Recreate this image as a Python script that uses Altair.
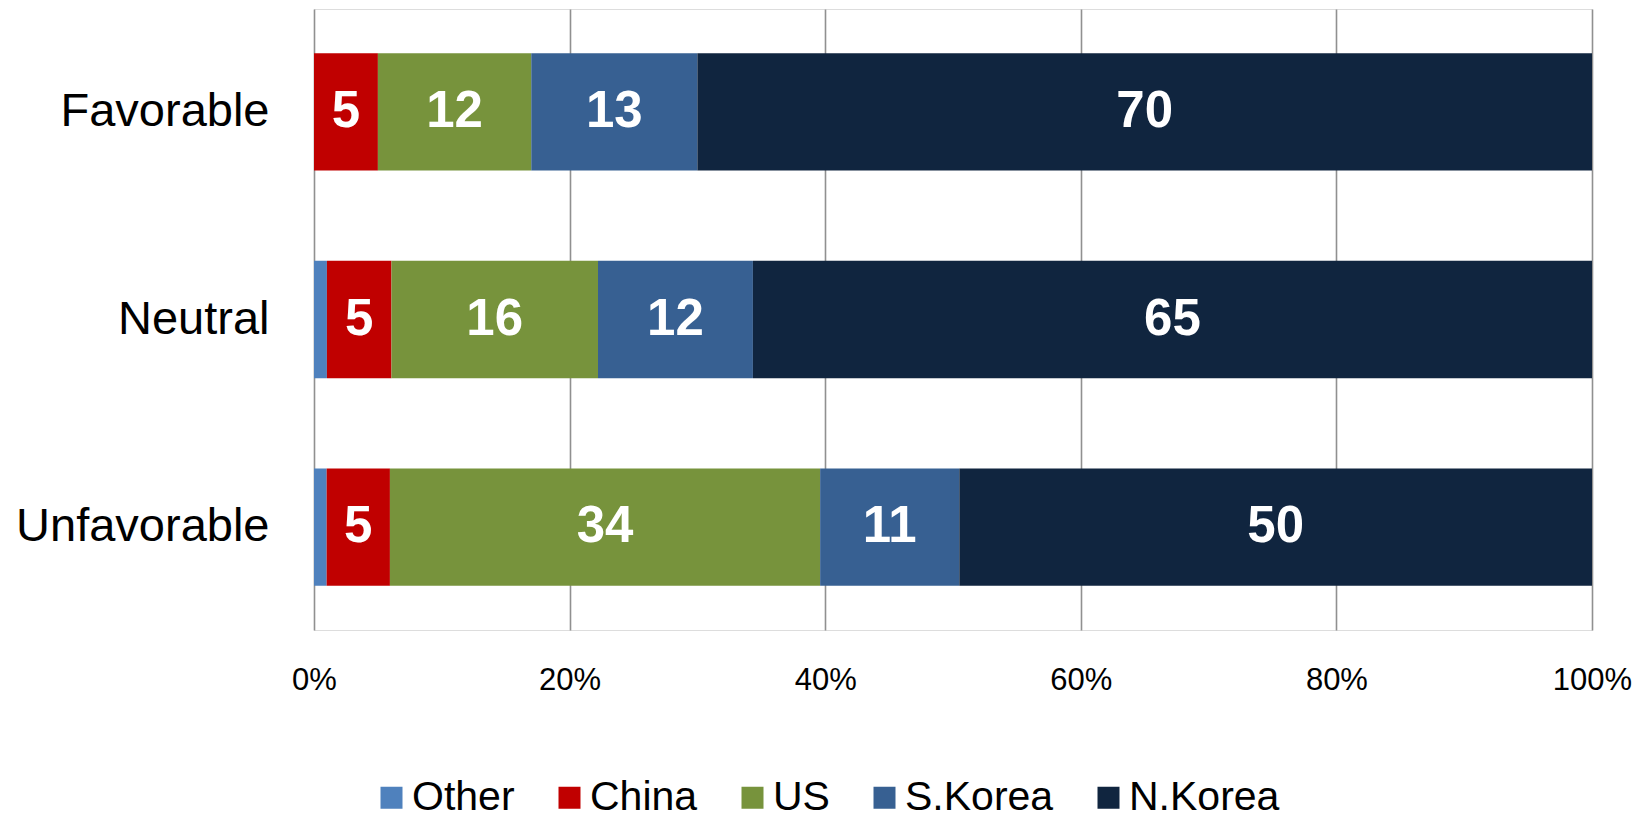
import altair as alt
import pandas as pd

categories = ["Favorable", "Neutral", "Unfavorable"]
series = ["Other", "China", "US", "S.Korea", "N.Korea"]
colors = ["#4F81BD", "#C00000", "#77933C", "#376092", "#10253F"]

other = [0, 1, 1]
china = [5, 5, 5]
us = [12, 16, 34]
skorea = [13, 12, 11]
nkorea = [70, 65, 50]

values_by_series = [other, china, us, skorea, nkorea]
rows = []
for si, (s, vals) in enumerate(zip(series, values_by_series)):
    for ci, c in enumerate(categories):
        rows.append({"category": c, "series": s, "order": si, "value": vals[ci]})
df = pd.DataFrame(rows)

FONT = "Liberation Sans"

base = alt.Chart(df).transform_stack(
    stack="value",
    groupby=["category"],
    as_=["x0", "x1"],
    offset="normalize",
    sort=[alt.SortField("order", order="ascending")],
)

y_enc = alt.Y(
    "category:N",
    sort=categories,
    scale=alt.Scale(paddingInner=0.435, paddingOuter=0.213),
    axis=alt.Axis(
        title=None,
        domain=False,
        ticks=False,
        labelFontSize=47,
        labelFont=FONT,
        labelColor="#000000",
        labelPadding=45,
        labelLimit=400,
    ),
)

bars = base.mark_bar().encode(
    y=y_enc,
    x=alt.X(
        "x0:Q",
        scale=alt.Scale(domain=[0, 1], nice=False),
        axis=alt.Axis(
            title=None,
            format="%",
            values=[0, 0.2, 0.4, 0.6, 0.8, 1.0],
            grid=True,
            gridColor="#909090",
            gridWidth=1.6,
            domain=False,
            ticks=False,
            labelFontSize=31,
            labelFont=FONT,
            labelColor="#000000",
            labelPadding=35,
            labelFlush=False,
        ),
    ),
    x2="x1:Q",
    color=alt.Color(
        "series:N",
        scale=alt.Scale(domain=series, range=colors),
        sort=series,
        legend=alt.Legend(
            title=None,
            orient="none",
            legendX=57,
            legendY=768,
            direction="horizontal",
            columns=5,
            symbolType="square",
            symbolSize=484,
            symbolStrokeWidth=0,
            symbolOpacity=1,
            labelFontSize=41,
            labelFont=FONT,
            labelColor="#000000",
            labelOffset=0,
            columnPadding=34,
            labelLimit=400,
        ),
    ),
    order=alt.Order("order:Q"),
)

labels = base.transform_filter(
    "datum.series != 'Other' && datum.value > 0"
).transform_calculate(
    mid="(datum.x0 + datum.x1) / 2"
).mark_text(
    color="white", fontWeight="bold", fontSize=51, font=FONT, baseline="middle", align="center"
).encode(
    y=alt.Y("category:N", sort=categories),
    x=alt.X("mid:Q"),
    text=alt.Text("value:Q"),
)

chart = alt.layer(bars, labels).properties(
    width=1278,
    height=621,
    padding={"left": 7, "top": 1, "right": 5, "bottom": 0},
).configure_view(stroke=None).configure(background="white")

chart.save("out.html", embed_options={"renderer": "svg", "actions": False})
